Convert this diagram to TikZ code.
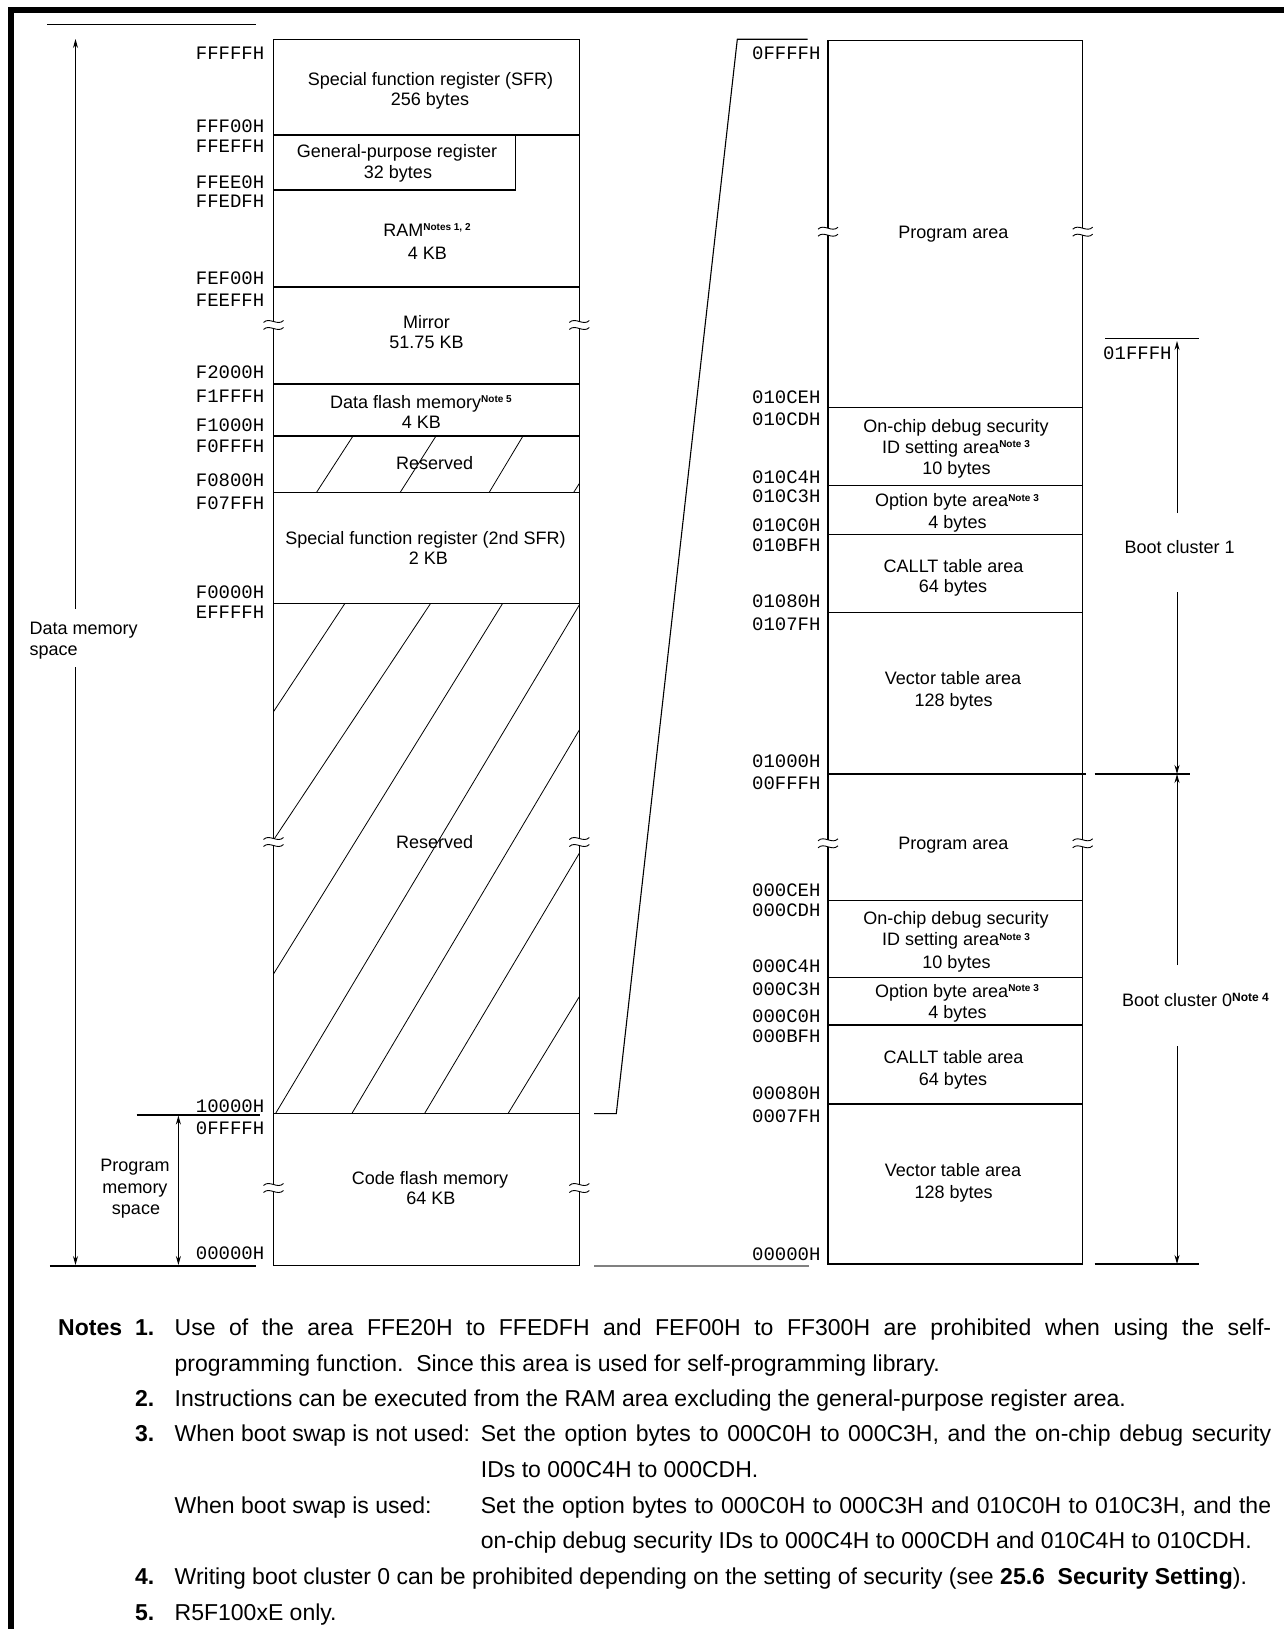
\documentclass[tikz,border=0pt]{standalone}
\usepackage{fontspec}
\setmainfont{Liberation Sans}
\newfontfamily\addrfont{Liberation Mono}
\usetikzlibrary{arrows.meta}
\newcommand\membreak[2]{%
  \fill[white] (#1-3,#2-3.2) rectangle (#1+3,#2+3.2);
  \draw[line width=0.9pt] (#1-10,#2-2.5) .. controls (#1-4,#2-8.5) and (#1+4,#2+1.5) .. (#1+10,#2-4.5);
  \draw[line width=0.9pt] (#1-10,#2+4.5) .. controls (#1-4,#2-1.5) and (#1+4,#2+8.5) .. (#1+10,#2+2.5);
}
\newcommand\supnote[1]{\raisebox{5.5pt}{\fontsize{10}{10}\selectfont\bfseries #1}}
\begin{document}
\begin{tikzpicture}[x=1pt,y=-1pt,line join=miter,
  box/.style={line width=1.4pt},
  hatchline/.style={line width=0.8pt},
  addr/.style={font=\addrfont\fontsize{19}{19}\selectfont,anchor=east,inner sep=0pt},
  lbl/.style={font=\fontsize{18}{20}\selectfont,anchor=base,inner sep=0pt},
  lbll/.style={font=\fontsize{18}{20}\selectfont,anchor=base west,inner sep=0pt},
  note/.style={font=\fontsize{23}{26}\selectfont,anchor=base west,inner sep=0pt},
  noteb/.style={font=\fontsize{23}{26}\selectfont\bfseries,anchor=base west,inner sep=0pt},
  tipup/.style={line width=1pt,-{Stealth[length=9pt,width=5pt]}},
  guide/.style={line width=1.2pt},
]
\useasboundingbox (0,0) rectangle (1284,1629);
% frame (top and left)
\fill (8,6.7) rectangle (1284,13.3);
\fill (8,6.7) rectangle (14,1629);

% ---------- left memory map ----------
% hatching
\draw[hatchline] (316.3,492.7) -- (353,436);
\draw[hatchline] (400,492.7) -- (436,436);
\draw[hatchline] (489,492.7) -- (523,436);
\draw[hatchline] (573.5,492.7) -- (579.3,483.5);
\draw[hatchline] (345,603.3) -- (273.5,711.7);
\draw[hatchline] (430.7,603.3) -- (273.5,840);
\draw[hatchline] (502.7,603.3) -- (273.5,974);
\draw[hatchline] (579.3,605) -- (275.5,1113.6);
\draw[hatchline] (579.3,730) -- (351.8,1113.6);
\draw[hatchline] (579.3,853.3) -- (424.5,1113.6);
\draw[hatchline] (579.3,996.7) -- (508,1113.6);

\draw[box] (273.5,39.5) rectangle (579.3,1265.5);
\foreach \y in {135,287,384,436,492.7,603.3,1113.6} \draw[box] (273.5,\y) -- (579.3,\y);
\draw[box] (273.5,190) -- (515.5,190) -- (515.5,135);

\foreach \y in {325,842,1188} {\membreak{273.5}{\y}\membreak{579.3}{\y}}

% left addresses
\foreach \t/\y [count=\i] in {FFFFFH/53.3,FFF00H/126.7,FFEFFH/146,FFEE0H/182.7,FFEDFH/201.7,FEF00H/278.3,FEEFFH/300,F2000H/372.7,F1FFFH/396,F1000H/425,F0FFFH/446.7,F0800H/480,F07FFH/503.3,F0000H/592.7,EFFFFH/612.7,10000H/1106.7,0FFFFH/1128.3,00000H/1253.3}
  \node[addr] (la\i) at (264.5,\y) {\t};

% left texts
\node[lbl] (sfr1) at (430.5,85.8) {Special function register (SFR)};
\node[lbl] (sfr2) at (430,105.5) {256 bytes};
\node[lbl] (gpr1) at (397,157.2) {General-purpose register};
\node[lbl] (gpr2) at (398,178.2) {32 bytes};
\node[lbl] (ram1) at (427,236.5) {RAM\supnote{Notes 1, 2}};
\node[lbl] (ram2) at (427.5,259.8) {4 KB};
\node[lbl] (mir1) at (426.5,328.2) {Mirror};
\node[lbl] (mir2) at (426.5,348.2) {51.75 KB};
\node[lbl] (df1) at (421,408.2) {Data flash memory\supnote{Note 5}};
\node[lbl] (df2) at (421.5,428.2) {4 KB};
\node[lbl] (res1) at (434.7,469.8) {Reserved};
\node[lbl] (sfr2a) at (425.5,544.8) {Special function register (2nd SFR)};
\node[lbl] (sfr2b) at (428.5,564.8) {2 KB};
\node[lbl] (res2) at (434.7,848.2) {Reserved};
\node[lbl] (cf1) at (430,1184.2) {Code flash memory};
\node[lbl] (cf2) at (431,1204.8) {64 KB};

% data memory space
\draw[guide] (47,24.3) -- (256,24.3);
\draw[guide] (49.8,1266) -- (256.3,1266);
\coordinate (dmt) at (75.5,39);
\coordinate (dmb) at (75.5,1265);
\coordinate (dmg1) at (75.5,609);
\coordinate (dmg2) at (75.5,667);
\draw[tipup] (dmg1) -- (dmt);
\draw[tipup] (dmg2) -- (dmb);
\node[lbll] (dm1) at (29.4,634.2) {Data memory};
\node[lbll] (dm2) at (29.4,655.8) {space};

% program memory space
\draw[guide] (136.7,1115) -- (259.6,1115);
\coordinate (pmt) at (178.4,1115.5);
\coordinate (pmb) at (178.4,1265);
\draw[line width=1pt,{Stealth[length=9pt,width=5pt]}-{Stealth[length=9pt,width=5pt]}] (pmt) -- (pmb);
\node[lbl] (pm1) at (135,1171.5) {Program};
\node[lbl] (pm2) at (135,1193.2) {memory};
\node[lbl] (pm3) at (136,1214.8) {space};

% zoom connector
\coordinate (z1) at (594,1113.6);
\coordinate (z2) at (616.3,1113.6);
\coordinate (z3) at (737.3,39.3);
\coordinate (z4) at (807.6,39.3);
\draw[line width=1.1pt] (z1) -- (z2) -- (z3) -- (z4);
\draw[line width=1.4pt,gray] (594,1266) -- (809,1266);

% ---------- right memory map ----------
\draw[box] (828,40.5) rectangle (1082.7,1264);
\foreach \y in {407.3,485.7,534.7,612.3,900.7,977.3,1025,1104} \draw[box] (828,\y) -- (1082.7,\y);
\draw[box] (828,774) -- (1085.6,774);
\foreach \y in {231.7,843.3} {\membreak{828}{\y}\membreak{1082.7}{\y}}

\foreach \t/\y [count=\i] in {0FFFFH/53.5,010CEH/397.7,010CDH/419.3,010C4H/477.3,010C3H/496.7,010C0H/525.7,010BFH/545.7,01080H/601.7,0107FH/624,01000H/761.7,00FFFH/783.3,000CEH/890,000CDH/910,000C4H/966.7,000C3H/989.3,000C0H/1016,000BFH/1036,00080H/1093.3,0007FH/1116,00000H/1254}
  \node[addr] (ra\i) at (820.7,\y) {\t};

\node[lbl] (pa1) at (953.4,238.2) {Program area};
\node[lbl] (od1) at (956,432.5) {On-chip debug security};
\node[lbl] (od2) at (956,453.2) {ID setting area\supnote{Note 3}};
\node[lbl] (od3) at (956.5,474.2) {10 bytes};
\node[lbl] (ob1) at (957,506.5) {Option byte area\supnote{Note 3}};
\node[lbl] (ob2) at (957.5,528.8) {4 bytes};
\node[lbl] (ct1) at (953.6,572.2) {CALLT table area};
\node[lbl] (ct2) at (953,592.2) {64 bytes};
\node[lbl] (vt1) at (953,684.2) {Vector table area};
\node[lbl] (vt2) at (953.6,706.5) {128 bytes};

\node[lbl] (pa0) at (953.4,849.8) {Program area};
\node[lbl] (oda) at (956,924.8) {On-chip debug security};
\node[lbl] (odb) at (956,945.8) {ID setting area\supnote{Note 3}};
\node[lbl] (odc) at (956.5,968.2) {10 bytes};
\node[lbl] (oba) at (957,997.2) {Option byte area\supnote{Note 3}};
\node[lbl] (obb) at (957.5,1018.8) {4 bytes};
\node[lbl] (cta) at (953.6,1063.8) {CALLT table area};
\node[lbl] (ctb) at (953,1085.8) {64 bytes};
\node[lbl] (vta) at (953,1176.5) {Vector table area};
\node[lbl] (vtb) at (953.6,1198.2) {128 bytes};

% boot clusters
\draw[guide] (1105,338.3) -- (1199,338.3);
\draw[guide] (1094.6,774) -- (1190.3,774);
\draw[guide] (1094.6,1264) -- (1199.3,1264);
\node[addr,anchor=west] (b1top) at (1103,353.3) {01FFFH};
\coordinate (b1t) at (1177,341);
\coordinate (b1g1) at (1177,513);
\coordinate (b1g2) at (1177,592);
\coordinate (bmid) at (1177,774);
\coordinate (b0g1) at (1177,965);
\coordinate (b0g2) at (1177,1046);
\coordinate (b0b) at (1177,1264);
\draw[tipup] (b1g1) -- (b1t);
\draw[tipup] (b1g2) -- (bmid);
\draw[tipup] (b0g1) -- (bmid);
\draw[tipup] (b0g2) -- (b0b);
\node[lbl] (bc1) at (1179.6,553.8) {Boot cluster 1};
\node[lbl] (bc0) at (1195.5,1006.5) {Boot cluster 0\raisebox{5pt}{\fontsize{12}{12}\selectfont\bfseries Note 4}};

% ---------- notes ----------
\node[noteb] (nn) at (58,1335) {Notes};
\node[noteb] (n1) at (135,1335) {1.};
\node[note] (t1) at (174.5,1335) {\makebox[1096.5pt][s]{Use of the area FFE20H to FFEDFH and FEF00H to FF300H are prohibited when using the self-}};
\node[note] (t1b) at (174.5,1371) {programming function.\ \ Since this area is used for self-programming library.};
\node[noteb] (n2) at (135,1406.5) {2.};
\node[note] (t2) at (174.5,1406.5) {Instructions can be executed from the RAM area excluding the general-purpose register area.};
\node[noteb] (n3) at (135,1441.8) {3.};
\node[note] (t3a) at (174.5,1441.8) {When boot swap is not used:};
\node[note] (t3b) at (480.7,1441.8) {\makebox[790.3pt][s]{Set the option bytes to 000C0H to 000C3H, and the on-chip debug security}};
\node[note] (t3c) at (480.7,1477) {IDs to 000C4H to 000CDH.};
\node[note] (t3d) at (174.5,1513.3) {When boot swap is used:};
\node[note] (t3e) at (480.7,1513.3) {\makebox[790.3pt][s]{Set the option bytes to 000C0H to 000C3H and 010C0H to 010C3H, and the}};
\node[note] (t3f) at (480.7,1548.2) {on-chip debug security IDs to 000C4H to 000CDH and 010C4H to 010CDH.};
\node[noteb] (n4) at (135,1584.5) {4.};
\node[note] (t4) at (174.5,1584.5) {Writing boot cluster 0 can be prohibited depending on the setting of security (see \textbf{25.6\ \ Security Setting}).};
\node[noteb] (n5) at (135,1620.2) {5.};
\node[note] (t5) at (174.5,1620.2) {R5F100xE only.};
\end{tikzpicture}
\end{document}
